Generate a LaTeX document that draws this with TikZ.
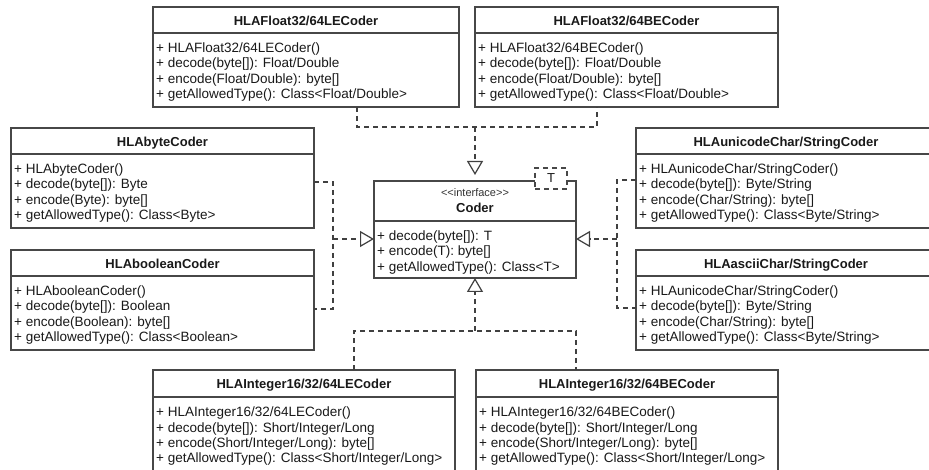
\documentclass[tikz,border=0pt]{standalone}
\usepackage{fontspec}
\setmainfont{Liberation Sans}
\usetikzlibrary{arrows.meta}
\newcommand\umlcls[8]{%
  \node[cls, minimum width=#4pt, minimum height=#5pt] (#1) at (#2,#3) {};
  \draw[sepline] ([yshift=-#6pt]#1.north west) -- ([yshift=-#6pt]#1.north east);
  \node[ttl] (#1-t) at ([yshift=-18.5pt]#1.north) {#7};
  \node[mth] (#1-m) at ([xshift=3pt,yshift=-#6pt-9.5pt]#1.north west) {\rule{0pt}{10pt}#8};
}
\begin{document}
\begin{tikzpicture}[x=1pt,y=-1pt,
  cls/.style={draw=black!72, line width=1.2pt, fill=white, inner sep=0pt, outer sep=0pt, anchor=north west},
  sepline/.style={draw=black!72, line width=1.2pt},
  ttl/.style={font=\fontsize{13}{15}\selectfont\bfseries, text=black!90, inner sep=0pt, anchor=base},
  mth/.style={font=\fontsize{13.5}{15.3}\selectfont, text=black!90, inner sep=0pt, anchor=north west, align=left},
  dl/.style={draw=black!75, line width=1.2pt, dash pattern=on 5pt off 4pt},
  gen/.style={dl, -{Triangle[open,length=14pt,width=16pt,line width=1.2pt]}},
  tbox/.style={draw=black!72, line width=1.2pt, dash pattern=on 5pt off 4pt, fill=white, inner sep=0pt, minimum width=32pt, minimum height=21pt, font=\fontsize{13}{15}\selectfont, text=black!90}
]
\useasboundingbox (0,0) rectangle (929,470);
\clip (0,0) rectangle (929,470);
\fill[white] (0,0) rectangle (929,470);

% classes
\umlcls{fle}{153}{7}{306}{100}{26}{HLAFloat32/64LECoder}{+ HLAFloat32/64LECoder()\\+ decode(byte[]): Float/Double\\+ encode(Float/Double): byte[]\\+ getAllowedType(): Class<Float/Double>}
\umlcls{fbe}{475}{7}{303}{100}{26}{HLAFloat32/64BECoder}{+ HLAFloat32/64BECoder()\\+ decode(byte[]): Float/Double\\+ encode(Float/Double): byte[]\\+ getAllowedType(): Class<Float/Double>}
\umlcls{byt}{11}{128}{303}{100}{26}{HLAbyteCoder}{+ HLAbyteCoder()\\+ decode(byte[]): Byte\\+ encode(Byte): byte[]\\+ getAllowedType(): Class<Byte>}
\umlcls{boo}{11}{250}{303}{100}{26}{HLAbooleanCoder}{+ HLAbooleanCoder()\\+ decode(byte[]): Boolean\\+ encode(Boolean): byte[]\\+ getAllowedType(): Class<Boolean>}
\umlcls{uni}{636}{128}{300}{100}{26}{HLAunicodeChar/StringCoder}{+ HLAunicodeChar/StringCoder()\\+ decode(byte[]): Byte/String\\+ encode(Char/String): byte[]\\+ getAllowedType(): Class<Byte/String>}
\umlcls{asc}{636}{250}{300}{100}{26}{HLAasciiChar/StringCoder}{+ HLAunicodeChar/StringCoder()\\+ decode(byte[]): Byte/String\\+ encode(Char/String): byte[]\\+ getAllowedType(): Class<Byte/String>}
\umlcls{ile}{153}{370}{302}{120}{27}{HLAInteger16/32/64LECoder}{+ HLAInteger16/32/64LECoder()\\+ decode(byte[]): Short/Integer/Long\\+ encode(Short/Integer/Long): byte[]\\+ getAllowedType(): Class<Short/Integer/Long>}
\umlcls{ibe}{476}{370}{302}{120}{27}{HLAInteger16/32/64BECoder}{+ HLAInteger16/32/64BECoder()\\+ decode(byte[]): Short/Integer/Long\\+ encode(Short/Integer/Long): byte[]\\+ getAllowedType(): Class<Short/Integer/Long>}

% interface
\node[cls, minimum width=202pt, minimum height=97pt] (cod) at (374,181) {};
\draw[sepline] ([yshift=-40pt]cod.north west) -- ([yshift=-40pt]cod.north east);
\node[inner sep=0pt, anchor=base, font=\fontsize{11}{13}\selectfont, text=black!80] (cod-s) at ([yshift=-16pt]cod.north) {<\kern0pt<interface>\kern0pt>};
\node[ttl] (cod-t) at ([yshift=-32pt]cod.north) {Coder};
\node[mth] (cod-m) at ([xshift=3pt,yshift=-49.5pt]cod.north west) {\rule{0pt}{10pt}+ decode(byte[]): T\\+ encode(T): byte[]\\+ getAllowedType(): Class<T>};
\node[tbox] (tpar) at (551,178.5) {T};

% junction coordinates
\coordinate (jtl) at (357,127);
\coordinate (jtr) at (597,127);
\coordinate (jt) at (475,127);
\coordinate (jl1) at (333,182);
\coordinate (jl2) at (333,309);
\coordinate (jl) at (333,239);
\coordinate (jr1) at (617,180);
\coordinate (jr2) at (617,308);
\coordinate (jr) at (617,239);
\coordinate (jbl) at (354,331);
\coordinate (jbr) at (576,331);
\coordinate (jb) at (475,331);

% top
\draw[dl] (fle.south -| jtl) -- (jtl) -- (jtr) -- (fbe.south -| jtr);
\draw[gen, shorten >=6pt] (jt) -- (cod.north);
% left
\draw[dl] (byt.east |- jl1) -- (jl1) -- (jl2) -- (boo.east |- jl2);
\draw[gen] (jl) -- (cod.west |- jl);
% right
\draw[dl] (uni.west |- jr1) -- (jr1) -- (jr2) -- (asc.west |- jr2);
\draw[gen] (jr) -- (cod.east |- jr);
% bottom
\draw[dl] (ile.north -| jbl) -- (jbl) -- (jbr) -- (ibe.north -| jbr);
\draw[gen] (jb) -- (cod.south);
\end{tikzpicture}
\end{document}
